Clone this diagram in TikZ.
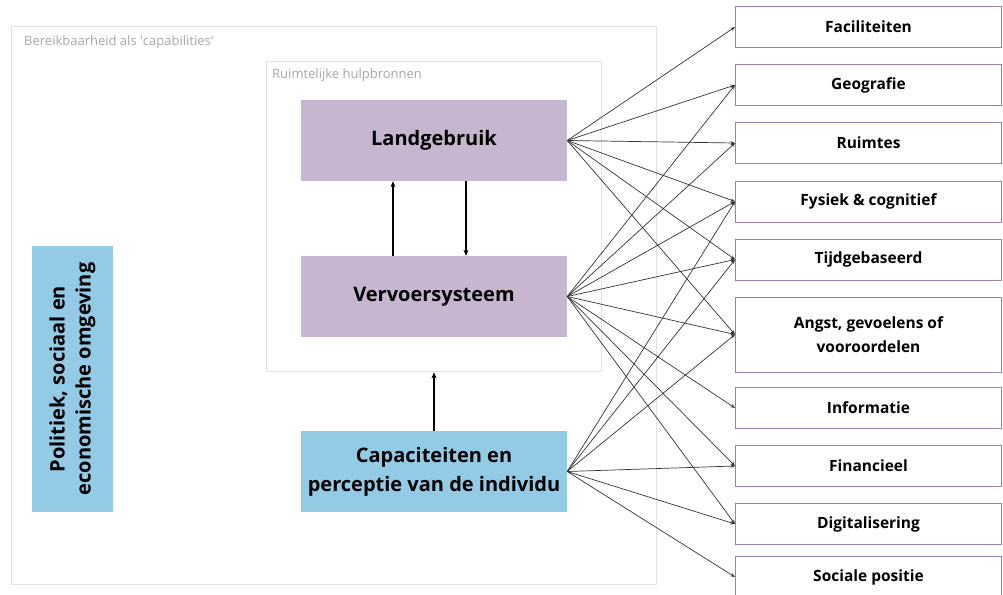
\documentclass[tikz,border=0pt]{standalone}
\usepackage{fontspec}
\setmainfont{Open Sans}
\usetikzlibrary{arrows.meta,calc}
\definecolor{landpurple}{HTML}{C6B6D0}
\definecolor{capblue}{HTML}{93CAE6}
\definecolor{factorline}{HTML}{9B80B3}
\definecolor{regionline}{HTML}{E2E2E2}
\definecolor{regiontext}{HTML}{A6A6A6}
\definecolor{connline}{HTML}{333333}
\tikzset{
  region/.style={draw=regionline, line width=1.3pt, anchor=north west, inner sep=0pt},
  regionlabel/.style={text=regiontext, font=\fontsize{13}{15}\selectfont, anchor=north west, inner sep=0pt},
  corebox/.style={fill=landpurple, minimum width=266pt, minimum height=81pt, inner sep=0pt,
    align=center, font=\bfseries\fontsize{20}{29}\selectfont},
  bluebox/.style={corebox, fill=capblue},
  factor/.style={draw=factorline, fill=white, line width=1pt, minimum width=266pt,
    minimum height=41pt, anchor=west, inner sep=0pt, align=center,
    font=\bfseries\fontsize{15.5}{24}\selectfont},
  conn/.style={draw=connline, line width=0.7pt, -{Stealth[length=4.5pt,width=3.5pt]}},
  vert/.style={draw=black, line width=1.2pt, -{Stealth[length=6pt,width=5pt]}}
}
\begin{document}
\begin{tikzpicture}[x=1pt,y=-1pt]
\useasboundingbox (0,0) rectangle (1003,594);

% surrounding regions
\node[region, minimum width=645pt, minimum height=558pt] (outer) at (11,26) {};
\node[regionlabel] (outerlabel) at (24,35.5) {Bereikbaarheid als \textquotesingle capabilities\textquotesingle};
\node[region, minimum width=335pt, minimum height=310pt] (inner) at (266,61) {};
\node[regionlabel] (innerlabel) at (272,68) {Ruimtelijke hulpbronnen};

% core boxes
\node[corebox] (L) at (434,140.5) {Landgebruik};
\node[corebox] (V) at (434,296.5) {Vervoersysteem};
\node[bluebox] (C) at (434,471.5) {Capaciteiten en\\perceptie van de individu};
\node[bluebox, rotate=90, minimum width=266pt, minimum height=81pt,
  font=\bfseries\fontsize{20}{26}\selectfont] (P) at (72.5,379)
  {Politiek, sociaal en\\economische omgeving};

% factors
\node[factor] (fac) at (735,27) {Faciliteiten};
\node[factor] (geo) at (735,85) {Geografie};
\node[factor] (ruim) at (735,143) {Ruimtes};
\node[factor] (fys) at (735,201.5) {Fysiek \& cognitief};
\node[factor] (tijd) at (735,259.5) {Tijdgebaseerd};
\node[factor, minimum height=75pt] (angst) at (735,334.5) {Angst, gevoelens of\\vooroordelen};
\node[factor] (info) at (735,408) {Informatie};
\node[factor] (fin) at (735,466) {Financieel};
\node[factor] (dig) at (735,524) {Digitalisering};
\node[factor] (soc) at (735,577) {Sociale positie};

% links inside the spatial resources
\draw[vert] ([xshift=-41pt]V.north) -- ([xshift=-41pt]L.south);
\draw[vert] ([xshift=32pt]L.south) -- ([xshift=32pt]V.north);
\draw[vert] (C.north) -- (C.north |- inner.south);

% links to the factors
\foreach \t in {fac,geo,ruim,fys,tijd,angst}
  \draw[conn] (L.east) -- (\t.west);
\foreach \t in {geo,ruim,fys,tijd,angst,info,fin,dig}
  \draw[conn] (V.east) -- (\t.west);
\foreach \t in {fys,tijd,angst,fin,dig,soc}
  \draw[conn] (C.east) -- (\t.west);
\end{tikzpicture}
\end{document}
